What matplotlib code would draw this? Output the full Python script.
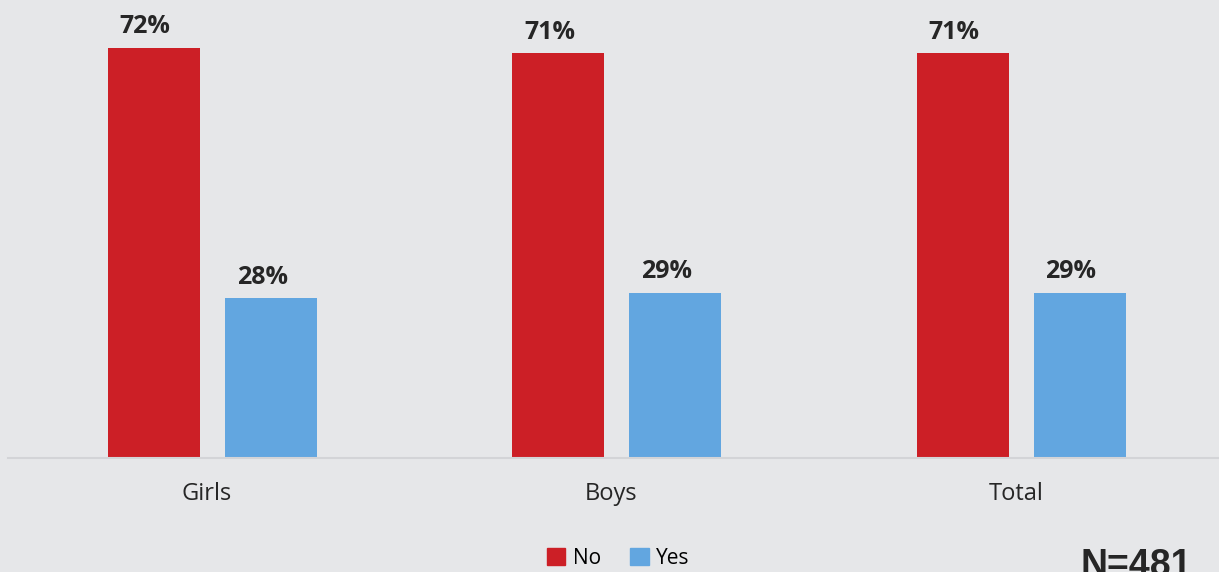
import matplotlib.pyplot as plt
from matplotlib.patches import Patch
import numpy as np

categories = ["Girls", "Boys", "Total"]
no_values = [72, 71, 71]
yes_values = [28, 29, 29]
sample_note = "N=481"

bg = "#e6e7e9"
red = "#cc1f26"
blue = "#62a6e0"
text_color = "#262626"

fig = plt.figure(figsize=(12.19, 5.72), dpi=100, facecolor=bg)
ax = fig.add_axes([8 / 1219, 114 / 572, 1211 / 1219, 458 / 572])
ax.set_facecolor(bg)

x = np.arange(len(categories))
w = 0.2276
off = 0.1447
bars_no = ax.bar(x - off, no_values, w, color=red, label="No")
bars_yes = ax.bar(x + off, yes_values, w, color=blue, label="Yes")

ax.set_xlim(-0.506, 2.489)
ax.set_ylim(0, 80.35)

for bars, vals in [(bars_no, no_values), (bars_yes, yes_values)]:
    for b, v in zip(bars, vals):
        ax.annotate(f"{v}%", (b.get_x() + b.get_width() / 2, v),
                    xytext=(-6.5, 6), textcoords="offset points",
                    ha="center", va="bottom", fontsize=18,
                    fontweight="bold", family="Open Sans", color=text_color)

for i, c in enumerate(categories):
    ax.annotate(c, (i, 0), xytext=(-4, -26), textcoords="offset points",
                ha="center", va="center", fontsize=17,
                family="Open Sans", color=text_color)

for s in ["top", "right", "left"]:
    ax.spines[s].set_visible(False)
ax.spines["bottom"].set_color("#d3d4d7")
ax.spines["bottom"].set_linewidth(1.5)
ax.set_xticks([])
ax.set_yticks([])

handles = [Patch(color=red, label="No"), Patch(color=blue, label="Yes")]
fig.legend(handles=handles, loc="center", bbox_to_anchor=(618 / 1219, 1 - 558 / 572),
           ncol=2, frameon=False, handlelength=0.9, handleheight=0.9,
           handletextpad=0.35, columnspacing=1.4,
           prop={"family": "Open Sans", "size": 15})

fig.text(1192 / 1219, 1 - 548 / 572, sample_note, ha="right", va="top",
         fontsize=27, fontweight="bold", family="Liberation Sans",
         color=text_color)

fig.savefig("out.png", dpi=100, facecolor=bg)
